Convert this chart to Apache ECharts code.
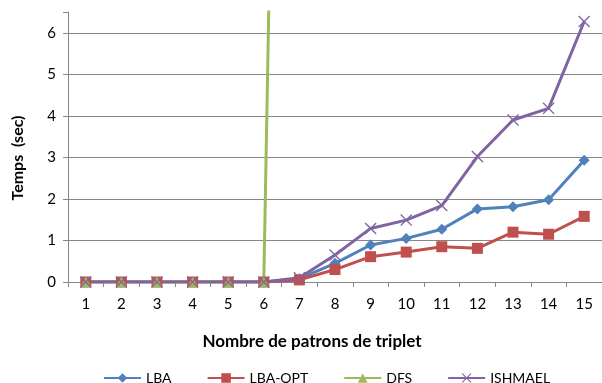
<!DOCTYPE html>
<html>
<head>
<meta charset="utf-8">
<script src="https://cdn.jsdelivr.net/npm/echarts@6/dist/echarts.min.js"></script>
<style>
  html, body { margin: 0; padding: 0; background: #fff; }
  #chart { width: 602px; height: 383px; }
</style>
</head>
<body>
<div id="chart"></div>
<script>
// Nombre de patrons de triplet (x) vs. temps d'exécution en secondes
const categories = ['1','2','3','4','5','6','7','8','9','10','11','12','13','14','15'];
const lba     = [0, 0, 0, 0, 0, 0, 0.08, 0.45, 0.89, 1.05, 1.27, 1.76, 1.81, 1.98, 2.93];
const lbaOpt  = [0, 0, 0, 0, 0, 0, 0.05, 0.30, 0.61, 0.72, 0.85, 0.81, 1.20, 1.15, 1.58];
const dfs     = [0, 0, 0, 0, 0, 0, 47, null, null, null, null, null, null, null, null];
const ishmael = [0, 0, 0, 0, 0, 0, 0.10, 0.65, 1.29, 1.49, 1.84, 3.02, 3.90, 4.18, 6.27];

const FONT = 'Lato';
const GRAY = '#868686';
const crossPath = 'path://M0,0.8L0.8,0L5,4.2L9.2,0L10,0.8L5.8,5L10,9.2L9.2,10L5,5.8L0.8,10L0,9.2L4.2,5Z';

function lineSeries(name, data, color, symbol, size) {
  return {
    name: name,
    type: 'line',
    data: data,
    symbol: symbol,
    symbolSize: size,
    showAllSymbol: true,
    clip: true,
    connectNulls: false,
    lineStyle: { color: color, width: 3 },
    itemStyle: { color: color },
    emphasis: { disabled: true },
    animation: false
  };
}

const chart = echarts.init(document.getElementById('chart'));
chart.setOption({
  backgroundColor: '#fff',
  animation: false,
  grid: { left: 68, right: -9, top: 12, bottom: 101, containLabel: false },
  xAxis: {
    type: 'category',
    data: categories,
    boundaryGap: true,
    name: 'Nombre de patrons de triplet',
    nameLocation: 'middle',
    nameGap: 51,
    nameTextStyle: {
      fontFamily: FONT, fontWeight: 'bold', fontSize: 17, color: '#000',
      padding: [0, 46, 0, 0]
    },
    axisLine: { lineStyle: { color: GRAY, width: 1 } },
    axisTick: { show: true, length: 5, alignWithLabel: false, lineStyle: { color: GRAY } },
    axisLabel: { fontFamily: FONT, fontSize: 15, color: '#000', margin: 15, interval: 0 },
    splitLine: { show: false }
  },
  yAxis: {
    type: 'value',
    min: 0,
    max: 6.5,
    interval: 1,
    axisLine: { show: true, lineStyle: { color: GRAY, width: 1 } },
    axisTick: { show: true, length: 5, lineStyle: { color: GRAY } },
    axisLabel: {
      fontFamily: FONT, fontSize: 15, color: '#000', margin: 12,
      formatter: v => (v > 6 ? '' : String(v))
    },
    splitLine: {
      show: true,
      lineStyle: { color: [GRAY, GRAY, GRAY, GRAY, GRAY, GRAY, GRAY, 'rgba(0,0,0,0)'], width: 1 }
    }
  },
  graphic: [{
    type: 'text',
    x: 18,
    y: 158,
    rotation: Math.PI / 2,
    style: {
      text: 'Temps  (sec)',
      font: 'bold 16px ' + FONT,
      fill: '#000',
      textAlign: 'center',
      textVerticalAlign: 'middle'
    }
  }],
  legend: {
    top: 366,
    left: 98,
    itemWidth: 37,
    itemHeight: 12,
    itemGap: 35,
    textStyle: { fontFamily: FONT, fontSize: 14, color: '#000' },
    data: ['LBA', 'LBA-OPT', 'DFS', 'ISHMAEL']
  },
  series: [
    lineSeries('LBA', lba, '#4F81BD', 'diamond', 11),
    lineSeries('LBA-OPT', lbaOpt, '#C0504D', 'rect', 11),
    lineSeries('DFS', dfs, '#9BBB59', 'triangle', 11),
    lineSeries('ISHMAEL', ishmael, '#8064A2', crossPath, 12)
  ]
});
</script>
</body>
</html>
